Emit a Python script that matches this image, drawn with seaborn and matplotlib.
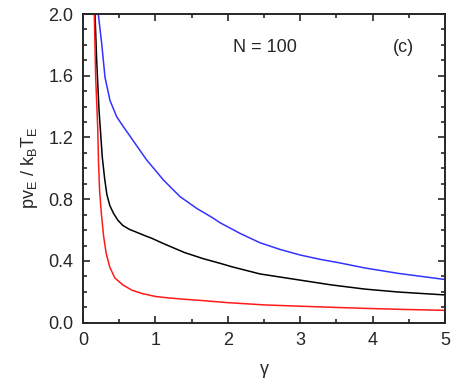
import numpy as np
import pandas as pd
import matplotlib
matplotlib.use('Agg')
import matplotlib.pyplot as plt
import seaborn as sns
from matplotlib.ticker import MultipleLocator

# values
gamma_blue = [0.211, 0.258, 0.304, 0.373, 0.465, 0.55, 0.64, 0.88, 0.995, 1.11, 1.34, 1.57,
              1.80, 1.892, 2.168, 2.445, 2.72, 2.997, 3.27, 3.53, 3.89, 4.35, 5.0]
pv_blue = [2.0, 1.81, 1.59, 1.44, 1.335, 1.275, 1.215, 1.054, 0.99, 0.925, 0.817, 0.741,
           0.677, 0.648, 0.579, 0.518, 0.475, 0.439, 0.411, 0.389, 0.355, 0.32, 0.28]

gamma_black = [0.166, 0.189, 0.221, 0.267, 0.30, 0.33, 0.37, 0.42, 0.48, 0.55, 0.64, 0.72, 0.85,
               0.95, 1.1, 1.225, 1.4, 1.66, 1.892, 2.06, 2.445, 2.97, 3.43, 3.89, 4.35, 5.0]
pv_black = [2.0, 1.70, 1.38, 1.07, 0.93, 0.83, 0.76, 0.71, 0.665, 0.63, 0.605, 0.59, 0.565,
            0.547, 0.515, 0.49, 0.455, 0.415, 0.385, 0.362, 0.316, 0.278, 0.245, 0.218, 0.199, 0.18]

gamma_red = [0.156, 0.175, 0.203, 0.215, 0.23, 0.255, 0.285, 0.32, 0.37, 0.44, 0.55, 0.68, 0.81,
             1.0, 1.13, 1.4, 1.66, 2.0, 2.52, 3.0, 3.43, 3.9, 4.35, 5.0]
pv_red = [2.0, 1.59, 1.27, 1.03, 0.85, 0.70, 0.56, 0.45, 0.36, 0.29, 0.245, 0.21, 0.19,
          0.17, 0.163, 0.152, 0.143, 0.13, 0.115, 0.107, 0.10, 0.093, 0.087, 0.08]

sns.set_style('ticks')
plt.rcParams['font.family'] = ['Liberation Sans', 'DejaVu Sans']
plt.rcParams['mathtext.fontset'] = 'custom'
plt.rcParams['mathtext.rm'] = 'Liberation Sans'

fig = plt.figure(figsize=(4.57, 3.84), dpi=100)
ax = fig.add_axes([0.1816, 0.1596, 0.7921, 0.8039])

for g, v, c in [(gamma_blue, pv_blue, '#3333ff'),
                (gamma_black, pv_black, 'black'),
                (gamma_red, pv_red, '#ff1a1a')]:
    df = pd.DataFrame({'gamma': g, 'pv': v})
    sns.lineplot(data=df, x='gamma', y='pv', color=c, lw=1.1, estimator=None, ax=ax)

ax.set_xlim(0, 5)
ax.set_ylim(0, 2.0)
ax.xaxis.set_major_locator(MultipleLocator(1))
ax.xaxis.set_minor_locator(MultipleLocator(0.5))
ax.yaxis.set_major_locator(MultipleLocator(0.4))
ax.yaxis.set_minor_locator(MultipleLocator(0.1))
ax.set_yticklabels(['%.1f' % t for t in ax.get_yticks()])

ax.tick_params(which='both', direction='in', top=True, right=True, width=1.2, labelsize=13, pad=7)
ax.tick_params(which='major', length=5)
ax.tick_params(which='minor', length=3)
for s in ax.spines.values():
    s.set_linewidth(1.4)

ax.set_xlabel('γ', fontsize=13, labelpad=8)
ax.set_ylabel(r'pv$_\mathregular{E}$ / k$_\mathregular{B}$T$_\mathregular{E}$', fontsize=13, labelpad=6)

ax.text(0.415, 0.89, 'N = 100', transform=ax.transAxes, fontsize=13, va='center')
ax.text(0.855, 0.89, '(c)', transform=ax.transAxes, fontsize=13, va='center')

fig.savefig('out.png', dpi=100)
